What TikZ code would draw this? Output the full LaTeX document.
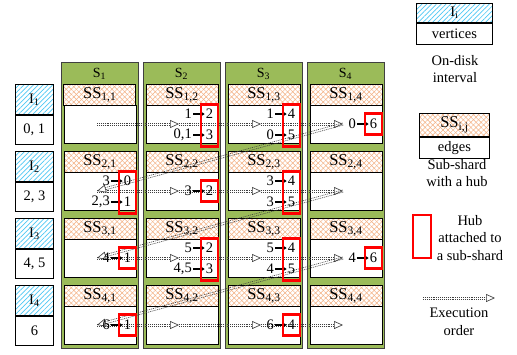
\documentclass[tikz,border=0pt]{standalone}
\usepackage{fontspec}
\setmainfont{Liberation Serif}
\usetikzlibrary{patterns.meta,arrows.meta,calc}
\definecolor{sgreen}{HTML}{9BBB59}
\definecolor{hatchorange}{HTML}{F4B183}
\definecolor{hatchblue}{HTML}{4DC8F5}
\definecolor{hubred}{HTML}{FF0000}
\tikzset{
  colbox/.style={draw=black!75, line width=0.9pt, fill=sgreen, rectangle, inner sep=0pt},
  sshead/.style={draw=black, line width=0.8pt, rectangle, inner sep=0pt,
     font=\fontsize{16.5}{18}\selectfont,
     preaction={fill=white},
     preaction={pattern={Lines[angle=45,distance=3.6pt,line width=0.5pt]}, pattern color=hatchorange},
     pattern={Lines[angle=-45,distance=3.6pt,line width=0.5pt]}, pattern color=hatchorange},
  ihead/.style={draw=black, line width=0.8pt, rectangle, inner sep=0pt,
     font=\fontsize{14.5}{17}\selectfont,
     preaction={fill=white},
     pattern={Lines[angle=45,distance=3.4pt,line width=0.7pt]}, pattern color=hatchblue},
  boxbody/.style={draw=black, line width=0.8pt, fill=white, rectangle, inner sep=0pt},
  hub/.style={draw=hubred, line width=2.2pt, rectangle, inner sep=0pt},
  num/.style={inner sep=1pt, font=\fontsize{14.5}{16}\selectfont},
  numarrow/.style={line width=1.6pt, -{Triangle[length=3pt,width=3.6pt]}},
  execline/.style={draw=black!75, line width=0.6pt, dash pattern=on 1pt off 0.9pt, shorten >=8pt},
  exectip/.style={draw=black!75, dash pattern=on 0pt off 1000pt, line cap=butt,
     -{Triangle[open, length=9pt, width=8pt, line width=0.65pt, fill=white]}},
  legtext/.style={align=center, inner sep=0pt, font=\fontsize{14.5}{17.5}\selectfont}
}
\newcommand\execarrow[2]{%
  \draw[execline] ($(#1)!1.1pt!90:(#2)$) -- ($(#2)!1.1pt!-90:(#1)$);
  \draw[execline] ($(#1)!1.1pt!-90:(#2)$) -- ($(#2)!1.1pt!90:(#1)$);
  \draw[exectip] (#1) -- (#2);
}
\newcommand\edgetwo[6]{%
  \pgfmathsetmacro\cx{61+82*(#2-1)}%
  \pgfmathsetmacro\cy{124+67*(#1-1)}%
  \node[num,anchor=east] (a#1#2) at (\cx+50,\cy-10) {#3};
  \node[num] (b#1#2) at (\cx+66.5,\cy-10) {#4};
  \node[num,anchor=east] (c#1#2) at (\cx+50,\cy+11) {#5};
  \node[num] (d#1#2) at (\cx+66.5,\cy+11) {#6};
  \draw[numarrow] (a#1#2) -- (b#1#2);
  \draw[numarrow] (c#1#2) -- (d#1#2);
  \node[hub,minimum width=17.5pt,minimum height=42pt] (hub#1#2) at (\cx+66.5,\cy+1.5) {};
}
\newcommand\edgeone[4]{%
  \pgfmathsetmacro\cx{61+82*(#2-1)}%
  \pgfmathsetmacro\cy{124+67*(#1-1)}%
  \node[num,anchor=east] (a#1#2) at (\cx+50,\cy) {#3};
  \node[num] (b#1#2) at (\cx+66.5,\cy) {#4};
  \draw[numarrow] (a#1#2) -- (b#1#2);
  \node[hub,minimum width=17pt,minimum height=21pt] (hub#1#2) at (\cx+66.5,\cy) {};
}
\begin{document}
\begin{tikzpicture}[x=1pt,y=-1pt,font=\fontsize{14}{16}\selectfont]
\useasboundingbox (0,0) rectangle (517,354);
% columns
\foreach \j in {1,...,4} {
  \pgfmathsetmacro\colx{61+82*(\j-1)}
  \node[colbox, minimum width=77pt, minimum height=286pt, anchor=north west] (S\j) at (\colx,62) {};
  \node[font=\fontsize{14}{16}\selectfont] (St\j) at (\colx+38.5,74) {S\textsubscript{\j}};
  \foreach \i in {1,...,4} {
    \pgfmathsetmacro\rowy{84+67*(\i-1)}
    \node[sshead, minimum width=72pt, minimum height=21pt, anchor=north west] (H\i\j) at (\colx+2.5,\rowy) {SS\textsubscript{\i,\j}};
    \node[boxbody, minimum width=72pt, minimum height=38pt, anchor=north west] (B\i\j) at (\colx+2.5,\rowy+21) {};
    \coordinate (P\i\j) at (\colx+36,\rowy+40);
  }
}
% intervals
\foreach \i/\v in {1/{0, 1},2/{2, 3},3/{4, 5},4/{6}} {
  \pgfmathsetmacro\rowy{84+67*(\i-1)}
  \node[ihead, minimum width=38pt, minimum height=30pt, anchor=north west] (I\i) at (15,\rowy) {I\textsubscript{\i}};
  \node[boxbody, minimum width=38pt, minimum height=29pt, anchor=north, font=\fontsize{14.5}{16}\selectfont] (V\i) at (I\i.south) {\v};
}
% execution order
\foreach \i in {1,...,4} {
  \execarrow{P\i1}{P\i2}
  \execarrow{P\i2}{P\i3}
  \execarrow{P\i3}{P\i4}
}
\execarrow{P14}{P21}
\execarrow{P24}{P31}
\execarrow{P34}{P41}
% edges and hubs
\edgetwo{1}{2}{1}{2}{0,1}{3}
\edgetwo{1}{3}{1}{4}{0}{5}
\edgeone{1}{4}{0}{6}
\edgetwo{2}{1}{3}{0}{2,3}{1}
\edgeone{2}{2}{3}{2}
\edgetwo{2}{3}{3}{4}{3}{5}
\edgeone{3}{1}{4}{1}
\edgetwo{3}{2}{5}{2}{4,5}{3}
\edgetwo{3}{3}{5}{4}{4}{5}
\edgeone{3}{4}{4}{6}
\edgeone{4}{1}{6}{1}
\edgeone{4}{3}{6}{4}
% legend
\node[ihead, minimum width=76pt, minimum height=19pt, anchor=north west] (LI) at (416,3) {I\textsubscript{i}};
\node[boxbody, minimum width=76pt, minimum height=21pt, anchor=north, font=\fontsize{14.5}{17}\selectfont] (LV) at (LI.south) {vertices};
\node[legtext] (LIt) at (455,69) {On-disk\\interval};
\node[sshead, minimum width=70pt, minimum height=23pt, anchor=north west] (LS) at (419,113) {SS\textsubscript{i,j}};
\node[boxbody, minimum width=70pt, minimum height=21pt, anchor=north, font=\fontsize{14.5}{17}\selectfont] (LE) at (LS.south) {edges};
\node[legtext] (LSt) at (457,173) {Sub-shard\\with a hub};
\node[hub, minimum width=18pt, minimum height=43pt] (LH) at (422,236.5) {};
\node[legtext] (LHt) at (470,238) {Hub\\attached to\\a sub-shard};
\coordinate (E1) at (423,298);
\coordinate (E2) at (495,298);
\execarrow{E1}{E2}
\node[legtext] (LEt) at (459,322) {Execution\\order};
\end{tikzpicture}
\end{document}
